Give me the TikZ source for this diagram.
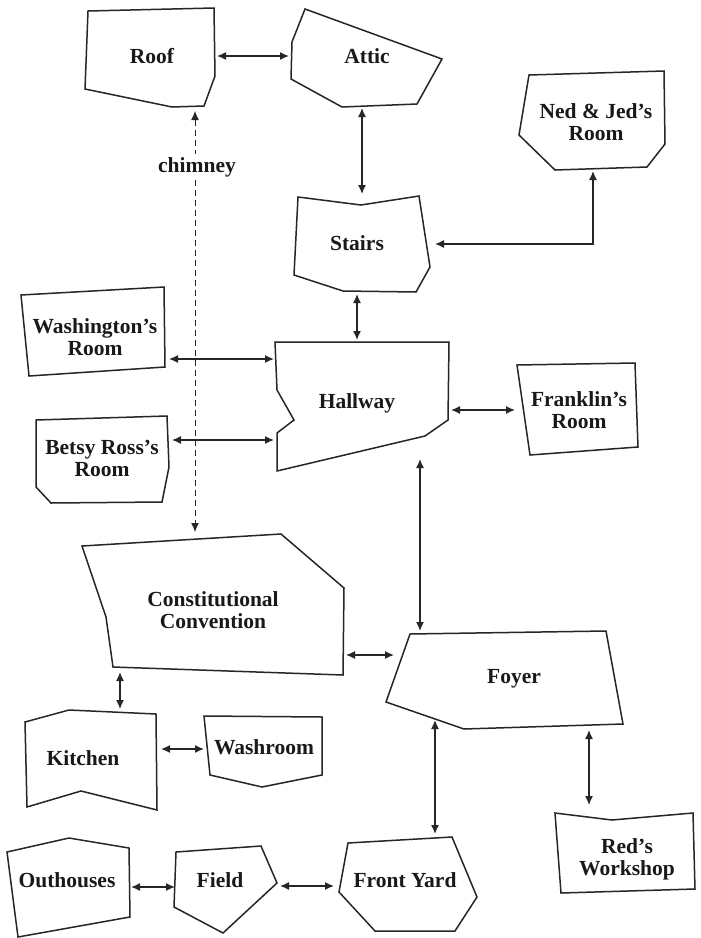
\documentclass[tikz,border=0pt]{standalone}
\usepackage{fontspec}
\setmainfont{Liberation Serif}
\usetikzlibrary{arrows.meta}
\begin{document}
\begin{tikzpicture}[x=1pt,y=-1pt,
  room/.style={draw=black!85, line width=1.5pt, line join=miter},
  lbl/.style={font=\bfseries\fontsize{21.5}{22}\selectfont, align=center, inner sep=0pt, text=black!90},
  link/.style={line width=1.4pt, draw=black!85, {Latex[length=9pt,width=8pt]}-{Latex[length=9pt,width=8pt]}},
]
\useasboundingbox[fill=white] (0,0) rectangle (701,938);

% rooms
\draw[room] (88,11) -- (214,8) -- (215,76) -- (204,106) -- (172,107) -- (85,89) -- cycle;
\node[lbl] (roof) at (152,56) {Roof};

\draw[room] (305,9) -- (442,59) -- (417,104) -- (342,107) -- (291,79) -- (292,42) -- cycle;
\node[lbl] (attic) at (367,56) {Attic};

\draw[room] (529,75) -- (664,71) -- (665,144) -- (647,167) -- (555,170) -- (519,135) -- cycle;
\node[lbl] (ned) at (596,122) {Ned \& Jed's\\Room};

\draw[room] (298,197) -- (361,205) -- (419,196) -- (430,267) -- (416,292) -- (343,291) -- (294,275) -- cycle;
\node[lbl] (stairs) at (357,243) {Stairs};

\draw[room] (21,295) -- (164,287) -- (165,367) -- (29,376) -- cycle;
\node[lbl] (wash) at (95,337) {Washington's\\Room};

\draw[room] (275,342) -- (449,342) -- (448,420) -- (425,436) -- (277,471) -- (277,433) -- (294,420) -- (277,390) -- cycle;
\node[lbl] (hall) at (357,403) {Hallway};

\draw[room] (36,420) -- (167,416) -- (169,467) -- (162,502) -- (51,503) -- (36,487) -- cycle;
\node[lbl] (betsy) at (102,458) {Betsy Ross's\\Room};

\draw[room] (517,365) -- (635,363) -- (638,447) -- (530,455) -- cycle;
\node[lbl] (franklin) at (579,410) {Franklin's\\Room};

\draw[room] (82,546) -- (281,534) -- (344,588) -- (343,675) -- (113,667) -- (106,617) -- cycle;
\node[lbl] (conv) at (213,610) {Constitutional\\Convention};

\draw[room] (410,634) -- (606,631) -- (623,724) -- (464,729) -- (386,702) -- cycle;
\node[lbl] (foyer) at (514,679) {Foyer};

\draw[room] (25,722) -- (69,710) -- (156,714) -- (157,810) -- (81,791) -- (27,807) -- cycle;
\node[lbl] (kitchen) at (83,758) {Kitchen};

\draw[room] (204,716) -- (322,717) -- (322,775) -- (262,787) -- (210,775) -- cycle;
\node[lbl] (washroom) at (264,747) {Washroom};

\draw[room] (555,813) -- (612,820) -- (693,813) -- (695,889) -- (561,893) -- cycle;
\node[lbl] (red) at (627,859) {Red's\\Workshop};

\draw[room] (348,843) -- (452,837) -- (477,897) -- (455,931) -- (375,931) -- (339,892) -- cycle;
\node[lbl] (front) at (405,880) {Front Yard};

\draw[room] (176,852) -- (261,846) -- (277,883) -- (223,933) -- (174,907) -- cycle;
\node[lbl] (field) at (220,880) {Field};

\draw[room] (7,852) -- (69,838) -- (129,848) -- (130,917) -- (18,937) -- cycle;
\node[lbl] (out) at (67,880) {Outhouses};

% connector end points
\coordinate (roofE) at (217,56);   \coordinate (atticW) at (289,56);
\coordinate (atticS) at (362,108); \coordinate (stairsN) at (362,194);
\coordinate (nedS) at (593,171);   \coordinate (stairsE) at (435,244);
\coordinate (stairsS) at (357,294); \coordinate (hallN) at (357,340);
\coordinate (washE) at (169,359);  \coordinate (hallW1) at (274,359);
\coordinate (betsyE) at (172,440); \coordinate (hallW2) at (274,440);
\coordinate (hallE) at (451,410);  \coordinate (franklinW) at (515,410);
\coordinate (hallS) at (420,459);  \coordinate (foyerN) at (420,631);
\coordinate (roofS) at (195,111);  \coordinate (convN) at (195,532);
\coordinate (convE) at (346,655);  \coordinate (foyerW) at (394,655);
\coordinate (convS) at (120,672);  \coordinate (kitchenN) at (120,709);
\coordinate (kitchenE) at (161,749); \coordinate (washroomW) at (204,749);
\coordinate (foyerS1) at (435,720); \coordinate (frontN) at (435,834);
\coordinate (foyerS2) at (589,730); \coordinate (redN) at (589,805);
\coordinate (outE) at (131,887);   \coordinate (fieldW) at (175,887);
\coordinate (fieldE) at (280,886); \coordinate (frontW) at (334,886);

% connectors
\draw[link] (roofE) -- (atticW);
\draw[link] (atticS) -- (stairsN);
\draw[link] (nedS) |- (stairsE);
\draw[link] (stairsS) -- (hallN);
\draw[link] (washE) -- (hallW1);
\draw[link] (betsyE) -- (hallW2);
\draw[link] (hallE) -- (franklinW);
\draw[link] (hallS) -- (foyerN);
\draw[link, line width=1pt, dash pattern=on 6pt off 4pt] (roofS) -- (convN);
\node[lbl, fill=white, inner sep=3pt] (chimney) at (197,167) {chimney};
\draw[link] (convE) -- (foyerW);
\draw[link] (convS) -- (kitchenN);
\draw[link] (kitchenE) -- (washroomW);
\draw[link] (foyerS1) -- (frontN);
\draw[link] (foyerS2) -- (redN);
\draw[link] (outE) -- (fieldW);
\draw[link] (fieldE) -- (frontW);
\end{tikzpicture}
\end{document}
